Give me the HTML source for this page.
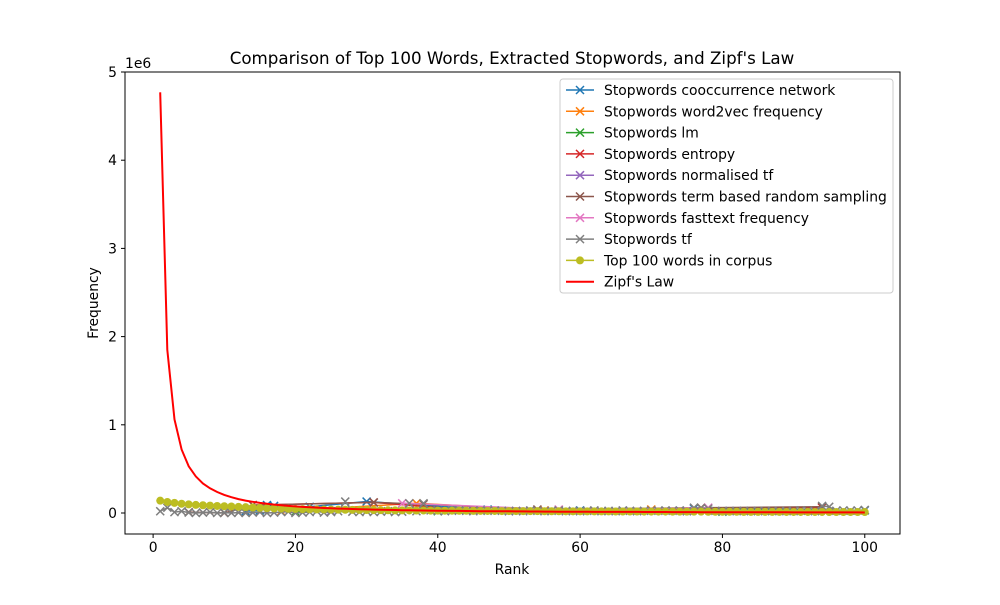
<!DOCTYPE html>
<html><head><meta charset="utf-8">
<style>
body{margin:0;background:#fff;}
svg text{font-family:"DejaVu Sans","Liberation Sans",sans-serif;}
</style></head>
<body>
<svg id="chart" width="1000" height="600" viewBox="0 0 1000 600">
<rect width="1000" height="600" fill="#fff"/>
<text x="512" y="64" text-anchor="middle" font-size="16.7">Comparison of Top 100 Words, Extracted Stopwords, and Zipf's Law</text>
<g id="plot"></g>
<rect x="125" y="72" width="775" height="462" fill="none" stroke="#000" stroke-width="1"/>
<g id="axes"></g>
<text x="512" y="574" text-anchor="middle" font-size="13.9">Rank</text>
<text x="98" y="303" text-anchor="middle" font-size="13.9" transform="rotate(-90 98 303)">Frequency</text>
<text x="125" y="68" font-size="13.9">1e6</text>
<g id="legend"></g>
</svg>
<script>
const xTicks=[0,20,40,60,80,100];
const yTicks=[0,1,2,3,4,5];
const ranks=Array.from({length:100},(_,i)=>i+1);
const top100=[140,125,115,105,98,92,88,84,80,77,74,70,66,62,58,55,52,50,48,46,44,42,41,40,39,38,37,36,35,34,33,32,31,30,30,29,28,28,27,27,26,26,25,25,24,24,23,23,22,22,22,21,21,21,20,20,20,19,19,19,18,18,18,18,17,17,17,17,16,16,16,16,15,15,15,15,15,14,14,14,14,14,13,13,13,13,13,13,12,12,12,12,12,12,11,11,11,11,11,11];
const zipf=[4770,1850,1060,720,530,415,335,280,238,205,179,158,141,127,115,104,95,88,81,75,69,65,61,57,53,50,48,45,43,41,39,37,35,34,32,31,30,28,27,26,25,24,24,23,22,21,21,20,19,19,18,18,17,17,16,16,15,15,15,14,14,13,13,13,13,12,12,12,11,11,11,11,10,10,10,10,9.6,9.4,9.2,9.0,8.8,8.6,8.4,8.3,8.1,8.0,7.8,7.7,7.5,7.4,7.3,7.1,7.0,6.9,6.8,6.7,6.6,6.5,6.4,6.3];
const seriesNames=["Stopwords cooccurrence network","Stopwords word2vec frequency","Stopwords lm","Stopwords entropy","Stopwords normalised tf","Stopwords term based random sampling","Stopwords fasttext frequency","Stopwords tf"];
const seriesColors=["#1f77b4","#ff7f0e","#2ca02c","#d62728","#9467bd","#8c564b","#e377c2","#7f7f7f"];
const coocRanks=[13,15,16,17,22,30,47,60,76,100];
const coocVals=[20,30,90,80,70,130,40,30,50,30];
const w2vRanks=[18,37,55,70];
const w2vVals=[20,110,30,40];
const lmRanks=[20,40,80];
const lmVals=[15,20,15];
const entRanks=[14,31,45,94];
const entVals=[90,120,30,60];
const ntfRanks=[25,50,75];
const ntfVals=[20,20,20];
const trsRanks=[5,10,14,31,38,54,77,94];
const trsVals=[10,0,90,120,100,40,60,70];
const ftRanks=[35,57,78];
const ftVals=[110,40,60];
const tfRanks=ranks;
const tfVals=[20,60,10,20,5,0,5,10,0,5,0,5,0,5,10,0,5,10,15,0,5,10,20,5,10,20,130,15,10,20,10,15,20,10,15,110,20,110,30,25,20,25,30,25,20,30,25,30,25,20,25,20,30,25,20,25,30,20,25,20,25,30,20,25,20,30,25,20,25,30,25,30,25,30,20,60,55,50,25,20,25,20,25,20,25,20,25,20,25,20,30,25,20,80,70,25,30,25,30,35];
const stopRanks=[coocRanks,w2vRanks,lmRanks,entRanks,ntfRanks,trsRanks,ftRanks,tfRanks];
const stopVals=[coocVals,w2vVals,lmVals,entVals,ntfVals,trsVals,ftVals,tfVals];

const NS="http://www.w3.org/2000/svg";
const X0=125,X1=900,Y0=534,Y1=72,XMIN=-3.95,XMAX=104.95,YMIN=-238,YMAX=5000;
function sx(v){return X0+(v-XMIN)/(XMAX-XMIN)*(X1-X0);}
function sy(v){return Y0-(v-YMIN)/(YMAX-YMIN)*(Y0-Y1);}
function mk(tag,attrs,parent){const e=document.createElementNS(NS,tag);for(const k in attrs)e.setAttribute(k,attrs[k]);parent.appendChild(e);return e;}
const plot=document.getElementById('plot'),axes=document.getElementById('axes'),legend=document.getElementById('legend');
function cross(g,x,y,c){const d=4;const p=mk('path',{d:`M${x-d},${y-d}L${x+d},${y+d}M${x-d},${y+d}L${x+d},${y-d}`,stroke:c,'stroke-width':1.5,fill:'none'},g);return p;}
stopRanks.forEach((rs,i)=>{
  const g=mk('g',{},plot);
  
  
  const pts=rs.map((r,j)=>sx(r).toFixed(1)+','+sy(stopVals[i][j]).toFixed(1)).join(' ');
  mk('polyline',{points:pts,fill:'none',stroke:seriesColors[i],'stroke-width':1.5},g);
  rs.forEach((r,j)=>{const m=cross(g,sx(r),sy(stopVals[i][j]),seriesColors[i]);
    
    });
});
{
  const g=mk('g',{},plot);
  
  
  mk('polyline',{points:ranks.map((r,i)=>sx(r).toFixed(1)+','+sy(top100[i]).toFixed(1)).join(' '),fill:'none',stroke:'#bcbd22','stroke-width':1.5},g);
  ranks.forEach((r,i)=>{const c=mk('circle',{cx:sx(r),cy:sy(top100[i]),r:4,fill:'#bcbd22'},g);
    
    });
}
{
  const p=mk('polyline',{points:ranks.map((r,i)=>sx(r).toFixed(1)+','+sy(zipf[i]).toFixed(1)).join(' '),fill:'none',stroke:'#ff0000','stroke-width':2},plot);
  
  
}
xTicks.forEach(t=>{const x=sx(t);
  mk('line',{x1:x,x2:x,y1:Y0,y2:Y0+4,stroke:'#000'},axes);
  const tx=mk('text',{x:x,y:Y0+18,'text-anchor':'middle','font-size':13.9},axes);tx.textContent=t;
  
  });
yTicks.forEach(t=>{const y=sy(t*1000);
  mk('line',{x1:X0-4,x2:X0,y1:y,y2:y,stroke:'#000'},axes);
  const tx=mk('text',{x:X0-8,y:y+5,'text-anchor':'end','font-size':13.9},axes);tx.textContent=t;
  
  });
{
  const box=mk('rect',{x:560,y:79,width:333,height:214,rx:3,fill:'#fff','fill-opacity':0.8,stroke:'#ccc'},legend);
  
  
  const names=seriesNames.concat(["Top 100 words in corpus","Zipf's Law"]);
  const cols=seriesColors.concat(["#bcbd22","#ff0000"]);
  names.forEach((n,i)=>{const y=90+i*21.3;
    const g=mk('g',{},legend);
    
    
    mk('line',{x1:566,x2:594,y1:y,y2:y,stroke:cols[i],'stroke-width':i==9?2:1.5},g);
    if(i<8)cross(g,580,y,cols[i]); else if(i==8) mk('circle',{cx:580,cy:y,r:4,fill:cols[i]},g);
    const t=mk('text',{x:604,y:y+5,'font-size':13.9},g);t.textContent=n;});
}
</script>
</body></html>
